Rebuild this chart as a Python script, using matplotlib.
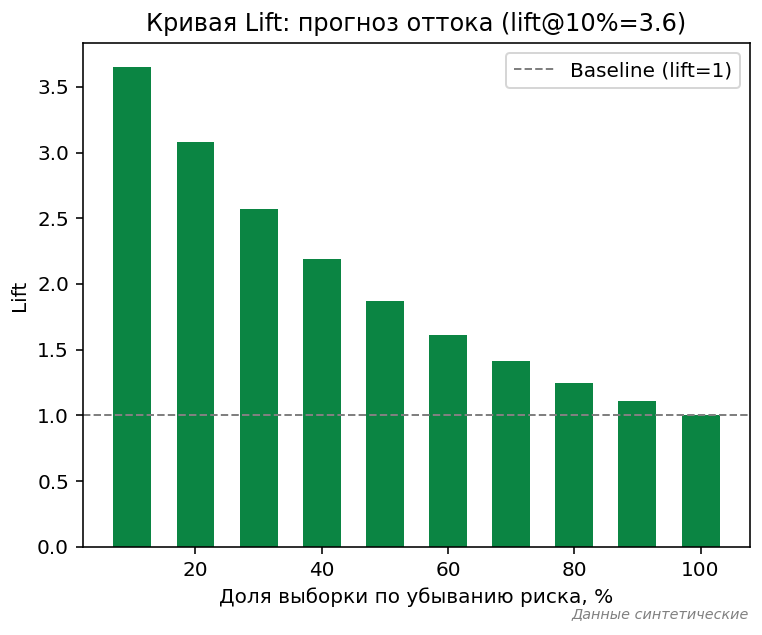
import matplotlib
matplotlib.use("Agg")
import matplotlib.pyplot as plt

# share of sample, sorted by descending risk (%)
deciles = [10, 20, 30, 40, 50, 60, 70, 80, 90, 100]
lift = [3.65, 3.08, 2.57, 2.19, 1.87, 1.61, 1.41, 1.245, 1.11, 1.00]

fig = plt.figure(figsize=(762 / 144, 635 / 144), dpi=144)
ax = fig.add_axes([0.109, 0.139, 0.875, 0.793])

ax.bar(deciles, lift, width=6, color="#0b8543")
ax.axhline(1.0, color="gray", linestyle="--", linewidth=1, label="Baseline (lift=1)")

ax.set_title("Кривая Lift: прогноз оттока (lift@10%=3.6)")
ax.set_xlabel("Доля выборки по убыванию риска, %")
ax.set_ylabel("Lift")
ax.legend(loc="upper right")

fig.text(0.983, 0.022, "Данные синтетические", ha="right", va="bottom",
         fontsize=7.2, style="italic", color="gray")

fig.savefig("out.png", dpi=144)
